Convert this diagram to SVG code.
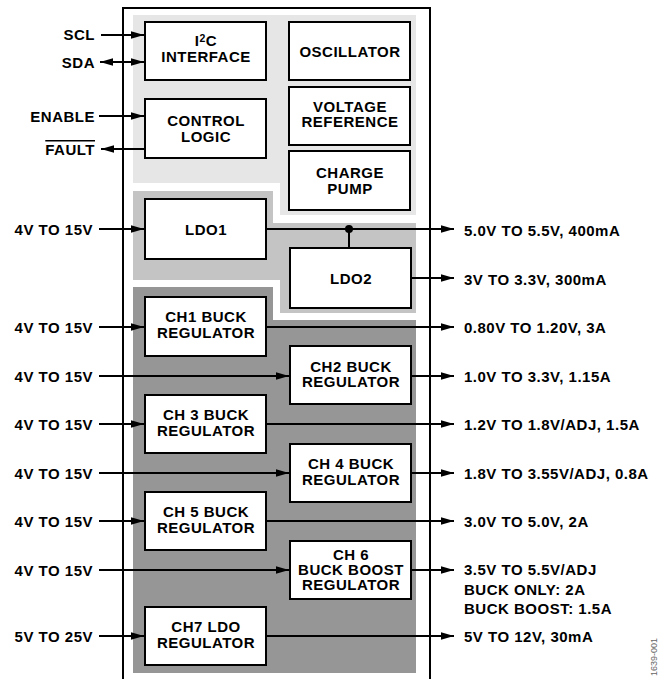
<svg xmlns="http://www.w3.org/2000/svg" width="660" height="679" viewBox="0 0 660 679">
<style>
.box{fill:#fff;stroke:#000;stroke-width:2}
.t{font-family:"Liberation Sans",Arial,Helvetica,sans-serif;font-weight:bold;font-size:15px;letter-spacing:0.5px;fill:#000}
.c{text-anchor:middle}
.e{text-anchor:end}
.w{stroke:#000;stroke-width:2;fill:none}
.a{marker-end:url(#ah)}
</style>
<defs>
<marker id="ah" markerWidth="14" markerHeight="8" refX="13" refY="4" orient="auto-start-reverse" markerUnits="userSpaceOnUse">
<path d="M0,0.3 L13,4 L0,7.7 z" fill="#000"/>
</marker>
</defs>
<rect width="660" height="679" fill="#fff"/>
<g id="regions">
<path d="M133,15 H416 V215 H280 V183 H133 Z" fill="#e6e6e6"/>
<path d="M133,191 H273 V223 H416 V313 H280 V280 H133 Z" fill="#c4c4c4"/>
<path d="M133,287 H273 V320 H416 V673 H133 Z" fill="#969696"/>
</g>
<g id="frame"><path class="w" d="M123,679 V8 H430 V679"/></g>
<g id="connectors">
<path class="w a" d="M101,35 H144"/>
<path class="w" d="M100,62 H144" marker-start="url(#ah)" marker-end="url(#ah)"/>
<path class="w a" d="M99,116 H144"/>
<path class="w a" d="M145,149 H101"/>
<path class="w a" d="M99,229 H144"/>
<path class="w a" d="M99,327 H144"/>
<path class="w a" d="M99,376 H289"/>
<path class="w a" d="M99,424 H144"/>
<path class="w a" d="M99,473 H289"/>
<path class="w a" d="M99,521 H144"/>
<path class="w a" d="M99,570 H289"/>
<path class="w a" d="M99,636 H144"/>
<path class="w a" d="M266,229 H454"/>
<path class="w" d="M349,229 V248"/>
<circle cx="349" cy="229" r="4" fill="#000"/>
<path class="w a" d="M411,278 H454"/>
<path class="w a" d="M266,327 H454"/>
<path class="w a" d="M411,376 H454"/>
<path class="w a" d="M266,424 H454"/>
<path class="w a" d="M411,473 H454"/>
<path class="w a" d="M266,521 H454"/>
<path class="w a" d="M411,570 H454"/>
<path class="w a" d="M266,636 H454"/>
</g>
<g id="i2c"><rect class="box" x="145" y="22" width="121" height="58"/><text class="t c" x="206" y="46">I<tspan font-size="10.5" dy="-4.5">2</tspan><tspan dy="4.5">C</tspan></text><text class="t c" x="206" y="62">INTERFACE</text></g>
<g id="osc"><rect class="box" x="289" y="22" width="121" height="58"/><text class="t c" x="350" y="56.5">OSCILLATOR</text></g>
<g id="ctrl"><rect class="box" x="145" y="99" width="121" height="59"/><text class="t c" x="206" y="125.5">CONTROL</text><text class="t c" x="206" y="141.5">LOGIC</text></g>
<g id="vref"><rect class="box" x="289" y="87" width="121" height="58"/><text class="t c" x="350" y="111.5">VOLTAGE</text><text class="t c" x="350" y="127">REFERENCE</text></g>
<g id="cp"><rect class="box" x="289" y="151" width="121" height="59"/><text class="t c" x="350" y="178">CHARGE</text><text class="t c" x="350" y="194">PUMP</text></g>
<g id="ldo1"><rect class="box" x="145" y="199" width="121" height="60"/><text class="t c" x="206" y="234.5">LDO1</text></g>
<g id="ldo2"><rect class="box" x="290" y="248" width="121" height="60"/><text class="t c" x="351" y="283.5">LDO2</text></g>
<g id="ch1"><rect class="box" x="145" y="297" width="121" height="59"/><text class="t c" x="206" y="322">CH1 BUCK</text><text class="t c" x="206" y="338">REGULATOR</text></g>
<g id="ch2"><rect class="box" x="290" y="346" width="121" height="58"/><text class="t c" x="351" y="371.5">CH2 BUCK</text><text class="t c" x="351" y="387">REGULATOR</text></g>
<g id="ch3"><rect class="box" x="145" y="395" width="121" height="58"/><text class="t c" x="206" y="420">CH 3 BUCK</text><text class="t c" x="206" y="436">REGULATOR</text></g>
<g id="ch4"><rect class="box" x="290" y="444" width="121" height="58"/><text class="t c" x="351" y="469">CH 4 BUCK</text><text class="t c" x="351" y="485">REGULATOR</text></g>
<g id="ch5"><rect class="box" x="145" y="492" width="121" height="58"/><text class="t c" x="206" y="517">CH 5 BUCK</text><text class="t c" x="206" y="533">REGULATOR</text></g>
<g id="ch6"><rect class="box" x="290" y="541" width="121" height="58"/><text class="t c" x="351" y="559.5">CH 6</text><text class="t c" x="351" y="574.5">BUCK BOOST</text><text class="t c" x="351" y="590">REGULATOR</text></g>
<g id="ch7"><rect class="box" x="145" y="607" width="121" height="58"/><text class="t c" x="206" y="631.5">CH7 LDO</text><text class="t c" x="206" y="647.5">REGULATOR</text></g>
<g id="inputs">
<text class="t e" x="95" y="40">SCL</text>
<text class="t e" x="95" y="67.5">SDA</text>
<text class="t e" x="95" y="121.5">ENABLE</text>
<text class="t e" x="95" y="155" text-decoration="overline">FAULT</text>
<text class="t e" x="93" y="234.5">4V TO 15V</text>
<text class="t e" x="93" y="332.5">4V TO 15V</text>
<text class="t e" x="93" y="381.5">4V TO 15V</text>
<text class="t e" x="93" y="429.5">4V TO 15V</text>
<text class="t e" x="93" y="478.5">4V TO 15V</text>
<text class="t e" x="93" y="526.5">4V TO 15V</text>
<text class="t e" x="93" y="575.5">4V TO 15V</text>
<text class="t e" x="93" y="641.5">5V TO 25V</text>
</g>
<g id="outputs">
<text class="t" x="464" y="235.5">5.0V TO 5.5V, 400mA</text>
<text class="t" x="464" y="284.5">3V TO 3.3V, 300mA</text>
<text class="t" x="464" y="333">0.80V TO 1.20V, 3A</text>
<text class="t" x="464" y="382">1.0V TO 3.3V, 1.15A</text>
<text class="t" x="464" y="430">1.2V TO 1.8V/ADJ, 1.5A</text>
<text class="t" x="464" y="479">1.8V TO 3.55V/ADJ, 0.8A</text>
<text class="t" x="464" y="527">3.0V TO 5.0V, 2A</text>
<text class="t" x="464" y="574.5">3.5V TO 5.5V/ADJ</text>
<text class="t" x="464" y="594.5">BUCK ONLY: 2A</text>
<text class="t" x="464" y="613.5">BUCK BOOST: 1.5A</text>
<text class="t" x="464" y="642">5V TO 12V, 30mA</text>
</g>
<text x="657" y="676" transform="rotate(-90 657 676)" font-family="Liberation Sans,Arial,sans-serif" font-size="9" fill="#666">1639-001</text>
</svg>
